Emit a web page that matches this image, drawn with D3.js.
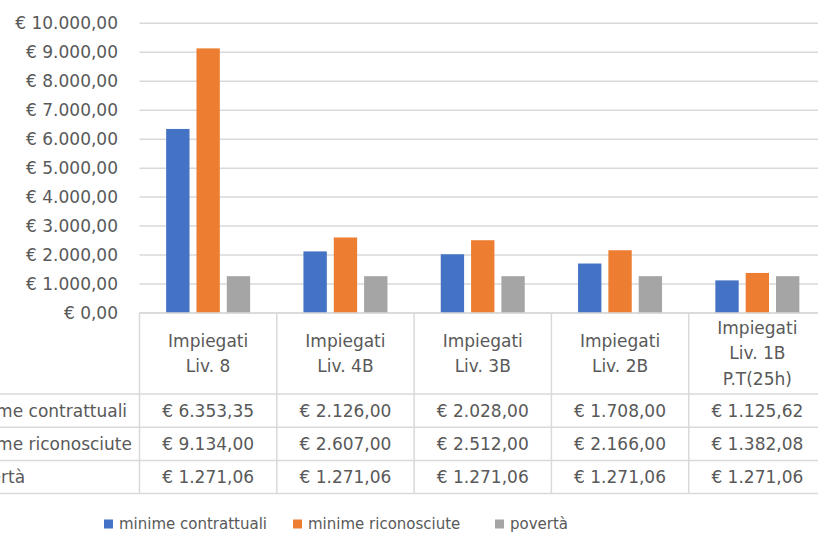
<!DOCTYPE html>
<html>
<head>
<meta charset="utf-8">
<script src="https://cdn.jsdelivr.net/npm/d3@7"></script>
<style>
  body { margin: 0; background: #fff; }
  svg { display: block; font-family: "DejaVu Sans", sans-serif; }
</style>
</head>
<body>
<svg id="chart" width="818" height="534"></svg>
<script>
// data
const categories = [
  ['Impiegati', 'Liv. 8'],
  ['Impiegati', 'Liv. 4B'],
  ['Impiegati', 'Liv. 3B'],
  ['Impiegati', 'Liv. 2B'],
  ['Impiegati', 'Liv. 1B', 'P.T(25h)']
]
const seriesNames = ['minime contrattuali', 'minime riconosciute', 'povertà']
const contrattuali = [6353.35, 2126.00, 2028.00, 1708.00, 1125.62]
const riconosciute = [9134.00, 2607.00, 2512.00, 2166.00, 1382.08]
const poverta = [1271.06, 1271.06, 1271.06, 1271.06, 1271.06]
const yTicks = [0, 1000, 2000, 3000, 4000, 5000, 6000, 7000, 8000, 9000, 10000]

const seriesValues = [contrattuali, riconosciute, poverta]
const colors = ['#4472C4', '#ED7D31', '#A5A5A5']

const svg = d3.select('#chart')
const W = +svg.attr('width')
const textColor = '#595959'
const gridColor = '#D9D9D9'
const fs = 17

const it = d3.formatLocale({decimal: ',', thousands: '.', grouping: [3], currency: ['€ ', '']})
const euro = it.format('$,.2f')

const plotLeft = 139.5
const catW = 137.3
const y0 = 313, yTop = 23.3

const x = d3.scaleBand()
  .domain(d3.range(categories.length))
  .range([plotLeft, plotLeft + catW * categories.length])
  .padding(0)

const xs = d3.scaleBand()
  .domain(d3.range(seriesNames.length))
  .range([0, 84])
  .paddingInner(0.23)

const y = d3.scaleLinear().domain([0, 10000]).range([y0, yTop])

// gridlines
svg.append('g')
  .selectAll('line')
  .data(yTicks)
  .join('line')
  .attr('x1', plotLeft).attr('x2', W)
  .attr('y1', d => y(d)).attr('y2', d => y(d))
  .attr('stroke', gridColor).attr('stroke-width', 1.5)

// y labels
svg.append('g')
  .selectAll('text')
  .data(yTicks)
  .join('text')
  .attr('x', 118).attr('y', d => y(d))
  .attr('dy', '0.35em')
  .attr('text-anchor', 'end')
  .attr('font-size', fs)
  .attr('fill', textColor)
  .text(d => euro(d))

// bars
const groups = svg.append('g')
  .selectAll('g')
  .data(categories.map((c, i) => i))
  .join('g')
  .attr('transform', i => `translate(${x(i) + (x.bandwidth() - xs.range()[1]) / 2},0)`)

groups.selectAll('rect')
  .data(i => seriesValues.map((vals, s) => ({s, v: vals[i]})))
  .join('rect')
  .attr('x', d => xs(d.s))
  .attr('width', xs.bandwidth())
  .attr('y', d => y(d.v))
  .attr('height', d => y0 - y(d.v))
  .attr('fill', d => colors[d.s])

// data table
const headerBottom = 394
const rowH = 33.2
const tableBottom = headerBottom + rowH * seriesNames.length
const tbl = svg.append('g')

tbl.append('line')
  .attr('x1', plotLeft).attr('x2', W)
  .attr('y1', y0).attr('y2', y0)
  .attr('stroke', gridColor).attr('stroke-width', 1.5)

tbl.selectAll('line.row')
  .data(d3.range(seriesNames.length + 1))
  .join('line')
  .attr('class', 'row')
  .attr('x1', 0).attr('x2', W)
  .attr('y1', r => headerBottom + r * rowH).attr('y2', r => headerBottom + r * rowH)
  .attr('stroke', gridColor).attr('stroke-width', 1.5)

tbl.selectAll('line.col')
  .data(d3.range(categories.length + 1))
  .join('line')
  .attr('class', 'col')
  .attr('x1', i => plotLeft + i * catW).attr('x2', i => plotLeft + i * catW)
  .attr('y1', y0).attr('y2', tableBottom)
  .attr('stroke', gridColor).attr('stroke-width', 1.5)

// header labels
const lineH = 25.5
const headerMid = (y0 + headerBottom) / 2
tbl.selectAll('text.head')
  .data(categories.map((c, i) => ({c, i})))
  .join('text')
  .attr('class', 'head')
  .attr('text-anchor', 'middle')
  .attr('font-size', fs)
  .attr('fill', textColor)
  .each(function(d) {
    const n = d.c.length
    d3.select(this).selectAll('tspan')
      .data(d.c)
      .join('tspan')
      .attr('x', x(d.i) + x.bandwidth() / 2)
      .attr('y', (t, k) => headerMid + (k - (n - 1) / 2) * lineH)
      .attr('dy', '0.35em')
      .text(t => t)
  })

// row labels (left aligned, cut by the page edge as in the original)
const rowLabels = tbl.selectAll('text.rowlab')
  .data(seriesNames)
  .join('text')
  .attr('class', 'rowlab')
  .attr('y', (d, r) => headerBottom + (r + 0.5) * rowH)
  .attr('dy', '0.35em')
  .attr('font-size', fs)
  .attr('fill', textColor)
  .text(d => d)
const longest = d3.max(rowLabels.nodes(), n => n.getComputedTextLength())
rowLabels.attr('x', 132 - longest)

// cell values
seriesValues.forEach((vals, r) => {
  tbl.append('g')
    .selectAll('text')
    .data(vals)
    .join('text')
    .attr('x', (v, i) => x(i) + x.bandwidth() / 2)
    .attr('y', headerBottom + (r + 0.5) * rowH)
    .attr('dy', '0.35em')
    .attr('text-anchor', 'middle')
    .attr('font-size', fs)
    .attr('fill', textColor)
    .text(v => euro(v))
})

// legend
const legendX = [104, 293, 495]
const legend = svg.append('g')
  .selectAll('g')
  .data(seriesNames)
  .join('g')
  .attr('transform', (d, i) => `translate(${legendX[i]},524)`)
legend.append('rect')
  .attr('x', 0).attr('y', -4.5)
  .attr('width', 9).attr('height', 9)
  .attr('fill', (d, i) => colors[i])
legend.append('text')
  .attr('x', 15).attr('dy', '0.35em')
  .attr('font-size', 15)
  .attr('fill', textColor)
  .text(d => d)
</script>
</body>
</html>
